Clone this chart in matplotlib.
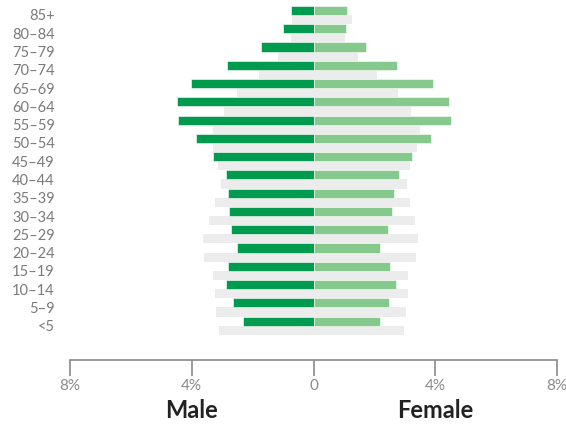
import matplotlib.pyplot as plt
import numpy as np

plt.rcParams['font.family'] = ['Lato', 'DejaVu Sans']

# age groups, bottom to top
ages = ['<5', '5–9', '10–14', '15–19', '20–24', '25–29', '30–34', '35–39',
        '40–44', '45–49', '50–54', '55–59', '60–64', '65–69', '70–74',
        '75–79', '80–84', '85+']

# percent of population
male = [2.32, 2.64, 2.88, 2.82, 2.51, 2.72, 2.76, 2.82,
        2.86, 3.30, 3.87, 4.46, 4.47, 4.03, 2.85, 1.72, 0.99, 0.74]
female = [2.19, 2.49, 2.70, 2.52, 2.18, 2.45, 2.57, 2.64,
          2.80, 3.24, 3.86, 4.53, 4.46, 3.93, 2.75, 1.71, 1.07, 1.10]

# comparison population (grey bars)
male_ref = [3.12, 3.20, 3.24, 3.30, 3.60, 3.63, 3.43, 3.23,
            3.05, 3.14, 3.31, 3.31, 2.94, 2.51, 1.79, 1.16, 0.74, 0.70]
female_ref = [2.97, 3.05, 3.09, 3.10, 3.37, 3.44, 3.33, 3.18,
              3.06, 3.17, 3.39, 3.49, 3.19, 2.78, 2.07, 1.45, 1.03, 1.28]

ticks = [-8, -4, 0, 4, 8]
tick_labels = ['8%', '4%', '0', '4%', '8%']

DARK = '#009b4e'
LIGHT = '#86c98c'
GREY = '#ececec'

fig = plt.figure(figsize=(5.66, 4.25), dpi=100)
ax = fig.add_axes([70 / 566, 65 / 425, 487 / 566, 360 / 425])

y = np.arange(len(ages))
h = 0.5

# grey reference bars sit just below each group's coloured bars
ax.barh(y - h, -np.array(male_ref), height=h, align='edge', color=GREY, linewidth=0)
ax.barh(y - h, female_ref, height=h, align='edge', color=GREY, linewidth=0)

ax.barh(y, -np.array(male), height=h, align='edge', color=DARK,
        edgecolor='white', linewidth=0.4)
ax.barh(y, female, height=h, align='edge', color=LIGHT,
        edgecolor='white', linewidth=0.4)

ax.set_xlim(-8, 8)
ax.set_ylim(-1.876, 17.82)

for s in ['top', 'right', 'left']:
    ax.spines[s].set_visible(False)
ax.spines['bottom'].set_color('#8a8a8a')
ax.spines['bottom'].set_linewidth(1.2)

ax.set_xticks(ticks)
ax.set_xticklabels(tick_labels)
ax.tick_params(axis='x', direction='out', length=11.5, width=1.2,
               color='#8a8a8a', labelcolor='#8a8a8a', labelsize=11, pad=2)

ax.set_yticks(y)
ax.set_yticklabels(ages)
ax.tick_params(axis='y', length=0, pad=11, labelcolor='#7a7a7a', labelsize=10.5)

ax.text(-4, -0.14, 'Male', transform=ax.get_xaxis_transform(),
        ha='center', va='center', fontsize=17, fontweight='bold', color='#222222')
ax.text(4, -0.14, 'Female', transform=ax.get_xaxis_transform(),
        ha='center', va='center', fontsize=17, fontweight='bold', color='#222222')

plt.savefig('out.png', dpi=100)
